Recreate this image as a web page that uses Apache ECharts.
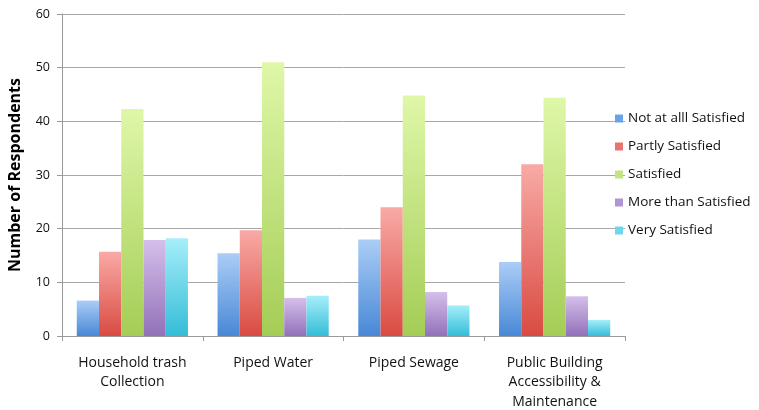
<!DOCTYPE html>
<html><head><meta charset="utf-8">
<script src="https://cdn.jsdelivr.net/npm/echarts@6/dist/echarts.min.js"></script>
<style>html,body{margin:0;padding:0;background:#fff}#c{width:759px;height:410px}</style>
</head><body><div id="c"></div>
<script>
const categories = ['Household trash\nCollection', 'Piped Water', 'Piped Sewage', 'Public Building\nAccessibility &\nMaintenance'];
const seriesNames = ['Not at alll Satisfied', 'Partly Satisfied', 'Satisfied', 'More than Satisfied', 'Very Satisfied'];
const notAtAll = [6.6, 15.4, 18.0, 13.8];
const partly = [15.7, 19.7, 24.0, 32.0];
const satisfied = [42.3, 51.0, 44.8, 44.4];
const moreThan = [17.9, 7.1, 8.2, 7.4];
const verySatisfied = [18.2, 7.5, 5.7, 3.0];
const yTicks = [0, 10, 20, 30, 40, 50, 60];

const values = [notAtAll, partly, satisfied, moreThan, verySatisfied];
const topColors = ['#abcdf6', '#f9aaa6', '#dff7a8', '#d5bfea', '#a6eefa'];
const botColors = ['#4888d6', '#d94b42', '#a4cd56', '#9271ba', '#34bdd8'];
const legendColors = ['#6aa2e6', '#ea7470', '#c3e384', '#b097d4', '#6fd7ec'];
const font = 'Open Sans';

const chart = echarts.init(document.getElementById('c'));
chart.setOption({
  animation: false,
  textStyle: { fontFamily: font },
  grid: { left: 62, right: 134, top: 14, bottom: 74, containLabel: false, outerBoundsMode: 'none' },
  legend: {
    orient: 'vertical', left: 610, top: 104,
    itemWidth: 8, itemHeight: 8, itemGap: 9, icon: 'rect',
    textStyle: { fontFamily: font, fontSize: 13.5, color: '#111', lineHeight: 19 },
    data: seriesNames.map((n, i) => ({ name: n, itemStyle: { color: legendColors[i] } }))
  },
  xAxis: {
    type: 'category', data: categories,
    axisLine: { lineStyle: { color: '#9a9a9a', width: 1 } },
    axisTick: { show: true, length: 5, lineStyle: { color: '#9a9a9a' } },
    axisLabel: { fontFamily: font, fontSize: 14, color: '#111', margin: 17, lineHeight: 19.5, interval: 0 }
  },
  yAxis: {
    type: 'value', min: 0, max: 60, interval: 10,
    name: 'Number of Respondents', nameLocation: 'middle', nameGap: 39, nameRotate: 90,
    nameTextStyle: { fontFamily: font, fontSize: 16, fontWeight: 'bold', color: '#000' },
    axisLine: { show: true, lineStyle: { color: '#9a9a9a' } },
    axisTick: { show: true, length: 5, lineStyle: { color: '#9a9a9a' } },
    axisLabel: { fontFamily: font, fontSize: 12.5, color: '#111', margin: 12, formatter: v => yTicks.includes(v) ? String(v) : '' },
    splitLine: { lineStyle: { color: '#a8a8a8', width: 1 } }
  },
  series: seriesNames.map((n, i) => ({
    name: n, type: 'bar', data: values[i],
    barGap: '0%', barCategoryGap: '21%',
    itemStyle: {
      color: new echarts.graphic.LinearGradient(0, 0, 0, 1, [
        { offset: 0, color: topColors[i] }, { offset: 1, color: botColors[i] }
      ])
    }
  }))
});
</script></body></html>
